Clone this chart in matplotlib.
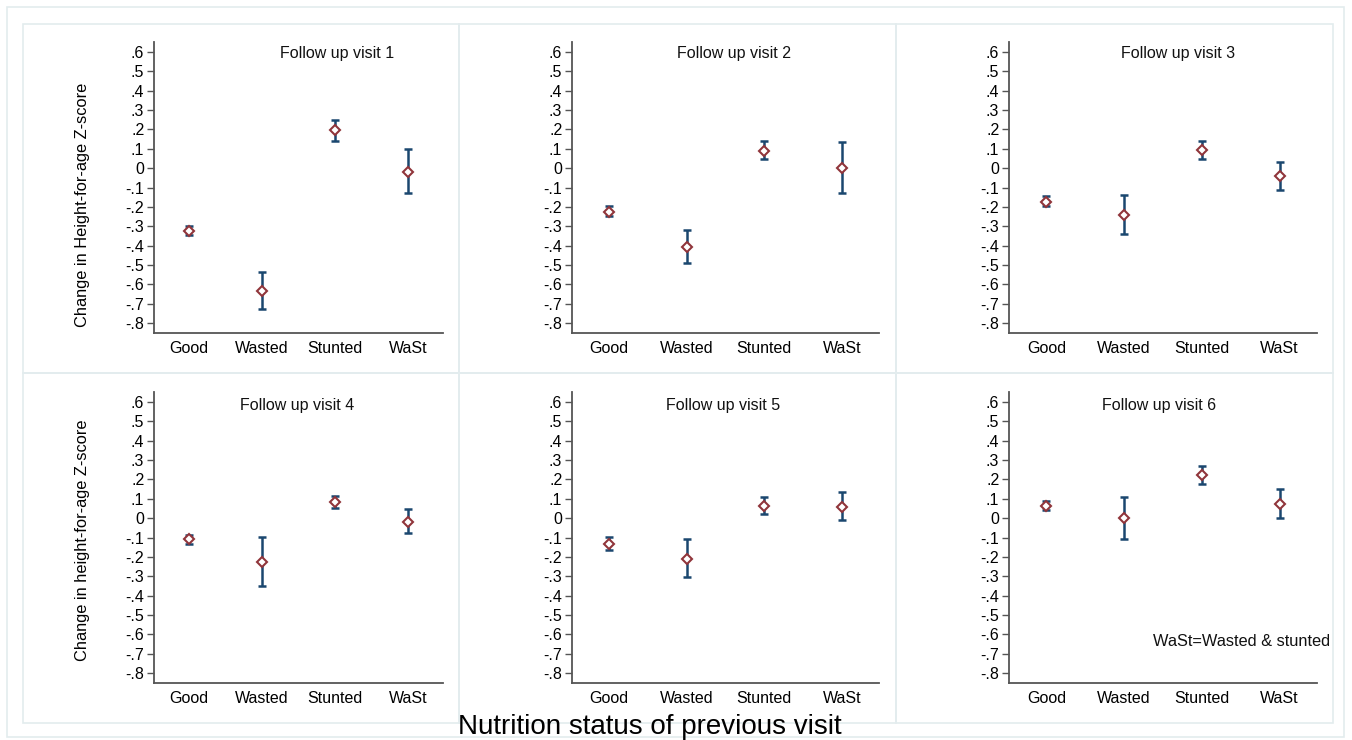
import matplotlib
matplotlib.use("Agg")
import matplotlib.pyplot as plt
from matplotlib.patches import Rectangle

plt.rcParams['font.family'] = ['Liberation Sans', 'DejaVu Sans']

categories = ["Good", "Wasted", "Stunted", "WaSt"]
visits = ["Follow up visit 1", "Follow up visit 2", "Follow up visit 3",
          "Follow up visit 4", "Follow up visit 5", "Follow up visit 6"]

# point estimates and confidence limits per visit (Good, Wasted, Stunted, WaSt)
est_v1 = [-0.324, -0.637, 0.195, -0.021]
lo_v1 = [-0.344, -0.728, 0.139, -0.129]
hi_v1 = [-0.298, -0.537, 0.251, 0.098]

est_v2 = [-0.227, -0.406, 0.091, 0.000]
lo_v2 = [-0.246, -0.489, 0.045, -0.126]
hi_v2 = [-0.198, -0.319, 0.141, 0.133]

est_v3 = [-0.176, -0.243, 0.095, -0.041]
lo_v3 = [-0.195, -0.338, 0.048, -0.114]
hi_v3 = [-0.146, -0.141, 0.141, 0.033]

est_v4 = [-0.110, -0.229, 0.081, -0.021]
lo_v4 = [-0.134, -0.353, 0.053, -0.079]
hi_v4 = [-0.086, -0.097, 0.114, 0.045]

est_v5 = [-0.133, -0.210, 0.064, 0.059]
lo_v5 = [-0.164, -0.305, 0.024, -0.010]
hi_v5 = [-0.097, -0.109, 0.109, 0.136]

est_v6 = [0.064, 0.000, 0.224, 0.072]
lo_v6 = [0.040, -0.109, 0.174, 0.002]
hi_v6 = [0.091, 0.110, 0.272, 0.152]

ytick_values = [0.6, 0.5, 0.4, 0.3, 0.2, 0.1, 0.0, -0.1, -0.2, -0.3, -0.4, -0.5, -0.6, -0.7, -0.8]
ytick_labels = [".6", ".5", ".4", ".3", ".2", ".1", "0", "-.1", "-.2", "-.3", "-.4", "-.5", "-.6", "-.7", "-.8"]

ylabels = ["Change in Height-for-age Z-score", "Change in height-for-age Z-score"]
xlabel = "Nutrition status of previous visit"
note = "WaSt=Wasted & stunted"

ests = [est_v1, est_v2, est_v3, est_v4, est_v5, est_v6]
los = [lo_v1, lo_v2, lo_v3, lo_v4, lo_v5, lo_v6]
his = [hi_v1, hi_v2, hi_v3, hi_v4, hi_v5, hi_v6]

W, H = 1352, 740
fig = plt.figure(figsize=(W / 100, H / 100), dpi=100)
fig.patch.set_facecolor("white")

def px_rect(x0, y0, x1, y1):
    return [x0 / W, 1 - y1 / H, (x1 - x0) / W, (y1 - y0) / H]

border = "#e3ecee"
# outer frame
fig.add_artist(Rectangle((7 / W, 1 - 737 / H), (1344 - 7) / W, (737 - 7) / H,
                         transform=fig.transFigure, fill=False, ec=border, lw=1.2))
# panel frames
panel_x = [(23, 459), (459, 896), (896, 1333)]
panel_y = [(24, 373), (373, 723)]
for (y0, y1) in panel_y:
    for (x0, x1) in panel_x:
        fig.add_artist(Rectangle((x0 / W, 1 - y1 / H), (x1 - x0) / W, (y1 - y0) / H,
                                 transform=fig.transFigure, fill=False, ec=border, lw=1.2))

axes_x = [(154, 443), (572, 879), (1009, 1317)]
axes_y = [(42, 333), (392, 683)]
title_xfrac = [0.633, 0.528, 0.549, 0.495, 0.492, 0.487]
title_yfrac = [0.959, 0.959, 0.959, 0.952, 0.952, 0.952]
ylabel_yfrac = [0.44, 0.49]

blue = "#1a476f"
red = "#90353b"
axc = "#555555"
pos = [1, 2, 3, 4]

for i in range(6):
    r, c = divmod(i, 3)
    x0, x1 = axes_x[c]
    y0, y1 = axes_y[r]
    ax = fig.add_axes(px_rect(x0, y0, x1, y1))
    est = ests[i]
    yerr = [[e - l for e, l in zip(est, los[i])], [h - e for e, h in zip(est, his[i])]]
    ax.errorbar(pos, est, yerr=yerr, fmt="none", ecolor=blue, elinewidth=1.8,
                capsize=3.2, capthick=1.8, zorder=2)
    ax.plot(pos, est, linestyle="none", marker="D", markersize=5.3, markerfacecolor="white",
            markeredgecolor=red, markeredgewidth=1.5, zorder=3)
    ax.set_xlim(0.52, 4.48)
    ax.set_ylim(-0.852, 0.652)
    ax.set_yticks(ytick_values)
    ax.set_yticklabels(ytick_labels)
    ax.set_xticks(pos)
    ax.set_xticklabels(categories)
    for s in ["top", "right"]:
        ax.spines[s].set_visible(False)
    for s in ["left", "bottom"]:
        ax.spines[s].set_color(axc)
        ax.spines[s].set_linewidth(1.3)
    ax.tick_params(axis="y", length=5, width=1, color=axc, labelsize=11.5, pad=2, labelcolor="black")
    ax.tick_params(axis="x", length=0, labelsize=11.5, pad=6, labelcolor="black")
    ax.set_facecolor("white")
    ax.text(title_xfrac[i], title_yfrac[i], visits[i], transform=ax.transAxes,
            ha="center", va="center", fontsize=11.5, color="#111111")
    if c == 0:
        ax.set_ylabel(ylabels[r], fontsize=11.8)
        ax.yaxis.set_label_coords(-0.222, ylabel_yfrac[r])
    if i == 5:
        ax.text(0.468, 0.141, note, transform=ax.transAxes, ha="left", va="center",
                fontsize=11.8, color="#111111")

fig.text(650 / W, 1 - 727 / H, xlabel, ha="center", va="center", fontsize=20, color="black")

fig.savefig("out.png", dpi=100, facecolor="white")
